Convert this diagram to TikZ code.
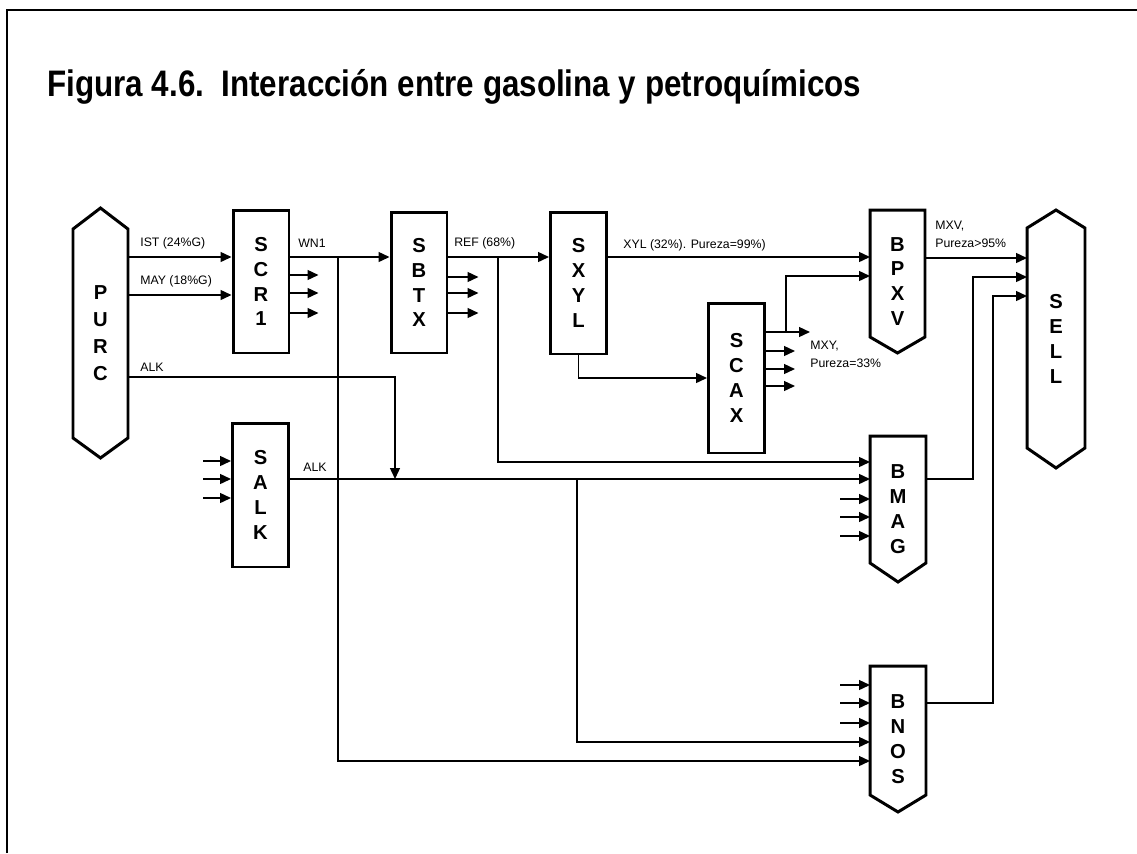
\documentclass[tikz,border=0pt]{standalone}
\usepackage{graphicx}
\usepackage{fontspec}
\setmainfont{Liberation Sans}
\usetikzlibrary{arrows.meta,calc}

\tikzset{
  unit/.style={draw, line width=1.7pt, minimum width=1.12cm, inner sep=0pt, align=center,
    font=\fontsize{11.5}{14.2}\selectfont\bfseries},
  tank/.style={unit, draw=none, outer sep=0pt},
  outline/.style={line width=1.7pt, line join=miter},
  flow/.style={line width=0.9pt, -{Triangle[length=6.2pt,width=5.6pt]}},
  tag/.style={font=\fontsize{7}{10.2}\selectfont, inner sep=0pt, anchor=west, align=left},
}

\begin{document}
\begin{tikzpicture}[x=0.02cm,y=-0.02cm]
  \useasboundingbox (0,0) rectangle (1137,853);
  \draw[line width=1.1pt] (7,853) -- (7,10) -- (1137,10);
  \node[anchor=base west, inner sep=0pt] (title) at (47,96)
    {\scalebox{0.85}[1]{\fontsize{21}{24}\selectfont\bfseries Figura 4.6.\ \ Interacción entre gasolina y petroquímicos}};

  % units
  \node[tank, minimum width=1.1cm, minimum height=5cm, font=\fontsize{11.5}{15.3}\selectfont\bfseries] (purc) at (100.5,333) {P\\U\\R\\C};
  \draw[outline] ($(purc.north west)+(0,21)$) -- (purc.north) -- ($(purc.north east)+(0,21)$)
    -- ($(purc.south east)+(0,-20)$) -- (purc.south) -- ($(purc.south west)+(0,-20)$) -- cycle;
  \node[unit, minimum height=2.86cm] (scr1) at (261,281.5) {S\\C\\R\\1};
  \node[unit, minimum height=2.82cm] (sbtx) at (419,282.5) {S\\B\\T\\X};
  \node[unit, minimum height=2.84cm] (sxyl) at (578.5,283) {S\\X\\Y\\L};
  \node[unit, minimum height=3cm] (scax) at (736.5,378) {S\\C\\A\\X};
  \node[unit, minimum height=2.88cm] (salk) at (260.5,495) {S\\A\\L\\K};
  \node[tank, minimum width=1.1cm, minimum height=2.86cm] (bpxv) at (897.5,281.5) {B\\P\\X\\V};
  \draw[outline] (bpxv.north west) -- (bpxv.north east) -- ($(bpxv.south east)+(0,-16)$) -- (bpxv.south)
    -- ($(bpxv.south west)+(0,-16)$) -- cycle;
  \node[tank, minimum height=2.92cm] (bmag) at (898,509) {B\\M\\A\\G};
  \draw[outline] (bmag.north west) -- (bmag.north east) -- ($(bmag.south east)+(0,-19)$) -- (bmag.south)
    -- ($(bmag.south west)+(0,-19)$) -- cycle;
  \node[tank, minimum height=2.92cm] (bnos) at (898,739) {B\\N\\O\\S};
  \draw[outline] (bnos.north west) -- (bnos.north east) -- ($(bnos.south east)+(0,-17)$) -- (bnos.south)
    -- ($(bnos.south west)+(0,-17)$) -- cycle;
  \node[tank, minimum width=1.16cm, minimum height=5.16cm] (sell) at (1056,339) {S\\E\\L\\L};
  \draw[outline] ($(sell.north west)+(0,18)$) -- (sell.north) -- ($(sell.north east)+(0,18)$)
    -- ($(sell.south east)+(0,-20)$) -- (sell.south) -- ($(sell.south west)+(0,-20)$) -- cycle;

  % junctions
  \coordinate (alk) at (395,479);
  \coordinate (wn1) at (338,257);
  \coordinate (ref) at (498,257);
  \coordinate (mxy) at (786,332);
  \coordinate (alkb) at (577,479);

  % PURC feeds
  \draw[flow] (purc.east |- 0,257) -- (scr1.west |- 0,257);
  \draw[flow] (purc.east |- 0,295) -- (scr1.west |- 0,295);
  \draw[flow] (purc.east |- 0,377) -| (alk);

  % SCR1
  \draw[flow] (scr1.east |- 0,257) -- (sbtx.west |- 0,257);
  \draw[flow] (wn1) |- (bnos.west |- 0,761);
  \foreach \yy in {275,293,313} \draw[flow] (scr1.east |- 0,\yy) -- ++(28,0);

  % SBTX
  \draw[flow] (sbtx.east |- 0,257) -- (sxyl.west |- 0,257);
  \draw[flow] (ref) |- (bmag.west |- 0,462);
  \foreach \yy in {277,293,313} \draw[flow] (sbtx.east |- 0,\yy) -- ++(30,0);

  % SXYL and SCAX
  \draw[flow] (sxyl.east |- 0,257) -- (bpxv.west |- 0,257);
  \draw[flow] (sxyl.south) |- (scax.west);
  \draw[flow] (scax.east |- 0,332) -- ++(44,0);
  \draw[flow] (mxy) |- (bpxv.west |- 0,276);
  \foreach \yy in {351,369,386} \draw[flow] (scax.east |- 0,\yy) -- ++(29,0);

  % SALK
  \foreach \yy in {461,479,498} \draw[flow] (salk.west |- 0,\yy) ++(-28,0) -- (salk.west |- 0,\yy);
  \draw[flow] (salk.east |- 0,479) -- (bmag.west |- 0,479);
  \draw[flow] (alkb) |- (bnos.west |- 0,742);

  % blends
  \foreach \yy in {499,517,536} \draw[flow] (bmag.west |- 0,\yy) ++(-30,0) -- (bmag.west |- 0,\yy);
  \foreach \yy in {685,703,723} \draw[flow] (bnos.west |- 0,\yy) ++(-30,0) -- (bnos.west |- 0,\yy);
  \draw[flow] (bpxv.east |- 0,258) -- (sell.west |- 0,258);
  \draw[flow] (bmag.east |- 0,479) -| (973,277) -- (sell.west |- 0,277);
  \draw[flow] (bnos.east |- 0,703) -| (993,296) -- (sell.west |- 0,296);

  % stream labels
  \node[tag] (t-ist) at (140,243) {IST (24\%G)};
  \node[tag] (t-may) at (140,281) {MAY (18\%G)};
  \node[tag] (t-alk1) at (140,367) {ALK};
  \node[tag] (t-wn1) at (298,243) {WN1};
  \node[tag] (t-ref) at (454,243) {REF (68\%)};
  \node[tag] (t-xyl) at (623,245) {XYL (32\%). Pureza=99\%)};
  \node[tag] (t-mxy) at (810,354) {MXY,\\Pureza=33\%};
  \node[tag] (t-mxv) at (935,234) {MXV,\\Pureza>95\%};
  \node[tag] (t-alk2) at (303,467) {ALK};
\end{tikzpicture}
\end{document}
